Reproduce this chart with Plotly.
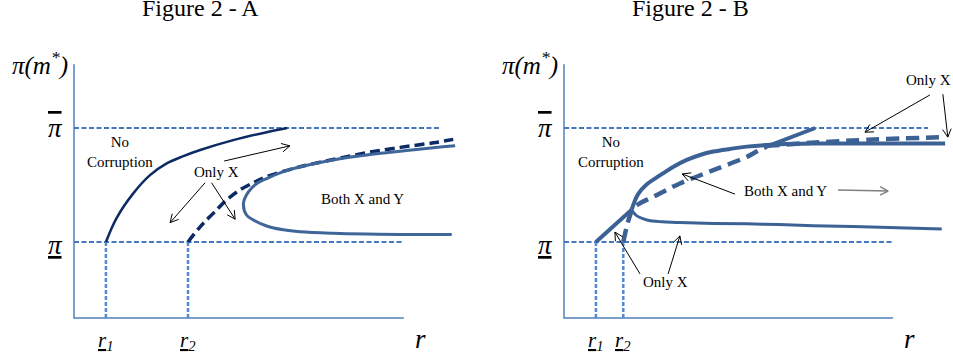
import numpy as np
import plotly.graph_objects as go

# reference levels
PI_LO, PI_HI = 2.0, 5.0
Y_TOP = 6.68
X_END_A, X_END_B = 8.68, 8.66
HLINE_END_A, HLINE_END_B = 9.63, 9.58

# Figure 2 - A
r1_a, r2_a = 0.84, 3.0
nocorr_a_x = [0.84, 1.12, 1.56, 2.0, 2.44, 2.88, 3.32, 4.19, 5.07, 5.61]
nocorr_a_y = [2.0, 2.63, 3.28, 3.76, 4.07, 4.26, 4.42, 4.68, 4.89, 5.0]
onlyx_a_x = [3.0, 3.32, 3.67, 4.02, 4.37, 4.72, 5.07, 5.95, 6.82, 7.70, 8.58, 9.46, 9.98]
onlyx_a_y = [2.0, 2.40, 2.76, 3.11, 3.37, 3.56, 3.72, 3.98, 4.17, 4.35, 4.49, 4.61, 4.70]
both_a_x = [10.03, 9.46, 8.58, 7.70, 6.82, 5.95, 5.51, 5.07, 4.81, 4.59, 4.46,
            4.54, 4.72, 5.07, 5.51, 5.95, 6.82, 7.70, 8.58, 9.94]
both_a_y = [4.53, 4.48, 4.39, 4.29, 4.16, 3.98, 3.85, 3.67, 3.54, 3.32, 3.02,
            2.71, 2.58, 2.42, 2.32, 2.27, 2.23, 2.21, 2.20, 2.20]

# Figure 2 - B
r1_b, r2_b = 0.84, 1.56
entry_b_x = [0.84, 1.78]
entry_b_y = [2.0, 2.85]
upper_b_x = [1.78, 1.95, 2.18, 2.44, 2.61, 2.88, 3.23, 3.58, 3.93, 4.37, 4.81, 5.68, 6.56, 7.44, 10.03]
upper_b_y = [2.85, 3.26, 3.52, 3.70, 3.81, 3.98, 4.16, 4.29, 4.38, 4.45, 4.51, 4.57, 4.59, 4.59, 4.59]
lower_b_x = [1.78, 1.90, 2.18, 2.60, 3.05, 3.93, 5.24, 6.56, 8.32, 9.94]
lower_b_y = [2.85, 2.70, 2.58, 2.53, 2.51, 2.49, 2.47, 2.43, 2.39, 2.34]
onlyx_b_x = [1.56, 1.65, 1.74, 1.81, 2.0, 2.35, 3.05, 3.93, 4.81, 5.07, 5.33]
onlyx_b_y = [2.0, 2.40, 2.71, 2.88, 3.02, 3.19, 3.54, 3.89, 4.24, 4.38, 4.51]
top_b_x = [5.33, 6.61]
top_b_y = [4.51, 5.0]
flat_b_x = [5.33, 6.5, 8.0, 10.03]
flat_b_y = [4.53, 4.61, 4.69, 4.76]

# arrows: (tail, head)
arrows_a = [((3.95, 4.13), (5.68, 4.53)),
            ((3.45, 3.56), (2.53, 2.51)),
            ((3.62, 3.56), (4.24, 2.60))]
arrows_b = [((9.63, 5.87), (7.92, 4.89)),
            ((9.97, 5.89), (10.10, 4.76)),
            ((4.50, 3.26), (3.11, 3.79)),
            ((2.00, 1.16), (1.34, 2.26)),
            ((2.74, 1.16), (3.05, 2.16))]
arrow_gray_b = [((7.21, 3.37), (8.53, 3.34))]

SERIF = "Liberation Serif, Times New Roman, serif"
AX_COL = "#4F81BD"
REF_COL = "#4677C2"
NAVY = "#0C2A63"
STEEL = "#3F6699"
STEEL_B = "#3C6195"

fig = go.Figure()


def line(xs, ys, ax, color, width, dash="solid", shape="spline"):
    fig.add_trace(go.Scatter(x=xs, y=ys, xaxis=ax[0], yaxis=ax[1], mode="lines",
                             line=dict(color=color, width=width, dash=dash, shape=shape),
                             hoverinfo="skip", showlegend=False))


def arrows(pairs, ax, color="black", width=1, size=0.24, ang=28):
    xs, ys = [], []
    a = np.radians(ang)
    for (tx, ty), (hx, hy) in pairs:
        d = np.array([tx - hx, ty - hy])
        d = d / np.hypot(*d) * size
        xs += [tx, hx, None]
        ys += [ty, hy, None]
        for s in (a, -a):
            w = np.array([d[0] * np.cos(s) - d[1] * np.sin(s), d[0] * np.sin(s) + d[1] * np.cos(s)])
            xs += [hx + w[0], hx, None]
            ys += [hy + w[1], hy, None]
    line(xs, ys, ax, color, width, shape="linear")


def frame(ax, r1, r2, x_end, h_end):
    # axes
    line([0, 0, x_end], [Y_TOP, 0, 0], ax, AX_COL, 1.5, shape="linear")
    # reference levels
    line([0, h_end], [PI_HI, PI_HI], ax, REF_COL, 2, dash="5px,2.5px", shape="linear")
    line([0, x_end], [PI_LO, PI_LO], ax, REF_COL, 2, dash="5px,2.5px", shape="linear")
    for r in (r1, r2):
        line([r, r], [PI_LO, -0.05], ax, "#5289D0", 2.5, dash="4px,2px", shape="linear")


A = ("x", "y")
B = ("x2", "y2")

frame(A, r1_a, r2_a, X_END_A, HLINE_END_A)
frame(B, r1_b, r2_b, X_END_B, HLINE_END_B)

# panel A curves
line(nocorr_a_x, nocorr_a_y, A, NAVY, 2.5)
line(onlyx_a_x, onlyx_a_y, A, NAVY, 3.5, dash="10px,5px")
line(both_a_x, both_a_y, A, STEEL, 3)
arrows(arrows_a, A)

# panel B curves
line(entry_b_x, entry_b_y, B, STEEL_B, 4, shape="linear")
line(upper_b_x, upper_b_y, B, STEEL_B, 4)
line(lower_b_x, lower_b_y, B, STEEL_B, 3)
line(onlyx_b_x, onlyx_b_y, B, STEEL_B, 4.5, dash="13px,7px")
line(top_b_x, top_b_y, B, STEEL_B, 4, shape="linear")
line(flat_b_x, flat_b_y, B, STEEL_B, 4.5, dash="13px,7px")
arrows(arrows_b, B)
arrows(arrow_gray_b, B, color="#7F7F7F", width=1.5)

ann = []


def text(ax, x, y, s, size=15):
    ann.append(dict(xref=ax[0], yref=ax[1], x=x, y=y, text=s, showarrow=False,
                    font=dict(family=SERIF, size=size, color="black"),
                    xanchor="center", yanchor="middle"))


for ax, r1, r2, title in ((A, r1_a, r2_a, "Figure 2 - A"), (B, r1_b, r2_b, "Figure 2 - B")):
    text(ax, 3.34, 8.15, title, size=24)
    text(ax, -0.89, 6.71, "<i>π(m<sup>*</sup>)</i>", size=25)
    text(ax, -0.5, 5.0, '<i><span style="text-decoration:overline">π</span></i>', size=27)
    text(ax, -0.5, 1.93, "<i><u>π</u></i>", size=27)
    text(ax, r1, -0.6, "<i><u>r</u><sub>1</sub></i>", size=21)
    text(ax, r2, -0.6, "<i><u>r</u><sub>2</sub></i>", size=21)
    text(ax, 9.13 if ax == A else 9.1, -0.55, "<i>r</i>", size=27)

text(A, 1.21, 4.37, "No<br>Corruption")
text(A, 3.74, 3.84, "Only X")
text(A, 7.6, 3.13, "Both X and Y")
text(B, 1.24, 4.37, "No<br>Corruption")
text(B, 9.6, 6.26, "Only X")
text(B, 5.84, 3.34, "Both X and Y")
text(B, 2.66, 0.95, "Only X")

yr = [(318 - 360) / 38, 318 / 38]
fig.update_layout(
    width=953, height=360,
    margin=dict(l=0, r=0, t=0, b=0),
    paper_bgcolor="white", plot_bgcolor="white",
    annotations=ann,
    xaxis=dict(domain=[0, 476 / 953], range=[-74 / 38, (476 - 74) / 38], visible=False),
    yaxis=dict(domain=[0, 1], range=yr, visible=False),
    xaxis2=dict(domain=[477 / 953, 1], range=[(477 - 564) / 38, (953 - 564) / 38], visible=False),
    yaxis2=dict(domain=[0, 1], range=yr, visible=False, anchor="x2"),
)

fig.write_html("out.html", config={"displayModeBar": False},
               post_script="document.body.style.margin='0';document.body.style.overflow='hidden';")
